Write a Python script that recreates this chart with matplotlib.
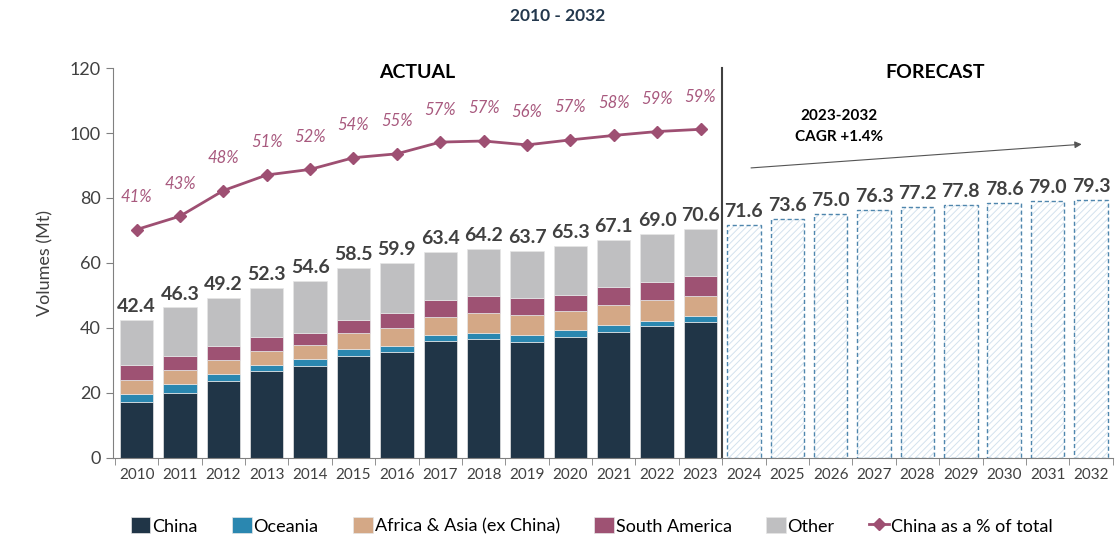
"""Stacked volumes by region, 2010-2032, actual vs forecast."""
import matplotlib

matplotlib.use("Agg")
import matplotlib.pyplot as plt  # noqa: E402
import numpy as np  # noqa: E402

# palette
C_CHINA = "#203547"
C_OCEANIA = "#2a87b0"
C_AFRICA = "#d4a886"
C_SAM = "#9e5273"
C_OTHER = "#bfbfc1"
C_LINE = "#9e4f72"
C_TEXT = "#404040"

plt.rcParams.update({
    "font.family": ["Lato", "DejaVu Sans"],
    "font.size": 11,
    "axes.spines.top": False,
    "axes.spines.right": False,
    "hatch.linewidth": 0.7,
})

# data
years_actual = [str(y) for y in range(2010, 2024)]
years_forecast = [str(y) for y in range(2024, 2033)]

china = [17.3, 20.1, 23.6, 26.6, 28.4, 31.5, 32.7, 36.1, 36.5, 35.8, 37.3, 38.9, 40.5, 41.7]
oceania = [2.5, 2.5, 2.2, 2.1, 2.1, 2.0, 1.9, 1.6, 2.1, 1.9, 2.1, 1.9, 1.7, 2.0]
africa_asia = [4.2, 4.4, 4.2, 4.2, 4.3, 4.8, 5.3, 5.7, 6.0, 6.2, 5.8, 6.2, 6.4, 6.1]
south_america = [4.6, 4.5, 4.6, 4.4, 3.8, 4.3, 4.7, 5.3, 5.3, 5.3, 5.0, 5.5, 5.6, 6.2]
totals_actual = [42.4, 46.3, 49.2, 52.3, 54.6, 58.5, 59.9, 63.4, 64.2, 63.7, 65.3, 67.1, 69.0, 70.6]
totals_forecast = [71.6, 73.6, 75.0, 76.3, 77.2, 77.8, 78.6, 79.0, 79.3]
china_share = [41.0, 43.4, 48.0, 50.8, 51.8, 53.9, 54.6, 56.7, 56.9, 56.2, 57.1, 57.9, 58.6, 59.0]

other = (np.array(totals_actual) - np.array(china) - np.array(oceania)
         - np.array(africa_asia) - np.array(south_america))

fig = plt.figure(figsize=(11.16, 5.4), dpi=100)
ax = fig.add_axes([0.101, 0.152, 0.896, 0.722])

xa = np.arange(len(years_actual))
xf = np.arange(len(years_actual), len(years_actual) + len(years_forecast))
w = 0.77

bottom = np.zeros(len(xa))
series = [("China", china, C_CHINA), ("Oceania", oceania, C_OCEANIA),
          ("Africa & Asia (ex China)", africa_asia, C_AFRICA),
          ("South America", south_america, C_SAM), ("Other", other, C_OTHER)]
for label, vals, color in series:
    vals = np.asarray(vals)
    ax.bar(xa, vals, w, bottom=bottom, color=color, edgecolor="#e6e6e6",
           linewidth=0.5, label=label)
    bottom = bottom + vals

# forecast: hatched fill + dashed outline
ax.bar(xf, totals_forecast, w, color="white", edgecolor="#d3e2ee",
       hatch="/////", linewidth=0)
ax.bar(xf, totals_forecast, w, fill=False, edgecolor="#4f86ad",
       linestyle=(0, (3, 2)), linewidth=1.0)

for x, v in zip(np.concatenate([xa, xf]), totals_actual + totals_forecast):
    ax.text(x, v + 1.5, f"{v:.1f}", ha="center", va="bottom",
            fontsize=14, fontweight="bold", color=C_TEXT)

ax.set_ylim(0, 120)
ax.set_yticks(range(0, 121, 20))
ax.set_xlim(-0.55, 22.5)
ax.set_xticks(np.concatenate([xa, xf]))
ax.set_xticklabels(years_actual + years_forecast, fontsize=11, color=C_TEXT)
ax.set_xticks(np.arange(-0.5, 22.6, 1), minor=True)
ax.tick_params(axis="x", which="major", length=0, pad=7)
ax.tick_params(axis="x", which="minor", length=5, color="#808080")
ax.tick_params(axis="y", labelsize=13, colors=C_TEXT, length=5)
ax.tick_params(axis="y", color="#808080")
for s in ("left", "bottom"):
    ax.spines[s].set_color("#808080")
ax.set_ylabel("Volumes (Mt)", fontsize=13, color=C_TEXT, labelpad=12)

# actual / forecast divider
ax.plot([13.5, 13.5], [0, 120], color=C_TEXT, linewidth=1.5, clip_on=False)
ax.text(6.47, 118.5, "ACTUAL", ha="center", va="center", fontsize=14,
        fontweight="bold", color="black")
ax.text(18.4, 118.5, "FORECAST", ha="center", va="center", fontsize=14,
        fontweight="bold", color="black")
ax.text(16.2, 102, "2023-2032\nCAGR +1.4%", ha="center", va="center",
        fontsize=11, fontweight="bold", color="black", linespacing=1.7)
ax.annotate("", xy=(21.85, 96.6), xytext=(14.1, 89.2),
            arrowprops=dict(arrowstyle="-|>", color="#555555", lw=0.8,
                            mutation_scale=10))

# China share on hidden secondary axis
ax2 = ax.twinx()
ax2.set_ylim(0, 70)
ax2.axis("off")
ax2.plot(xa, china_share, color=C_LINE, linewidth=2, marker="D",
         markersize=6.5, label="China as a % of total")
for x, v in zip(xa, china_share):
    ax2.text(x, v + 4.4, f"{v:.0f}%", ha="center", va="bottom",
             fontsize=12, style="italic", color="#a8597e")

fig.suptitle("2010 - 2032", x=0.5, y=0.985, fontsize=12.5, fontweight="bold",
             color="#23384d")

h1, l1 = ax.get_legend_handles_labels()
h2, l2 = ax2.get_legend_handles_labels()
fig.legend(h1[:5] + h2, l1[:5] + l2, loc="lower center", ncol=6,
           bbox_to_anchor=(0.53, -0.02), frameon=False, fontsize=13,
           handlelength=1.1, handleheight=1.0, handletextpad=0.1,
           columnspacing=1.9)

fig.savefig("out.png", dpi=100)
